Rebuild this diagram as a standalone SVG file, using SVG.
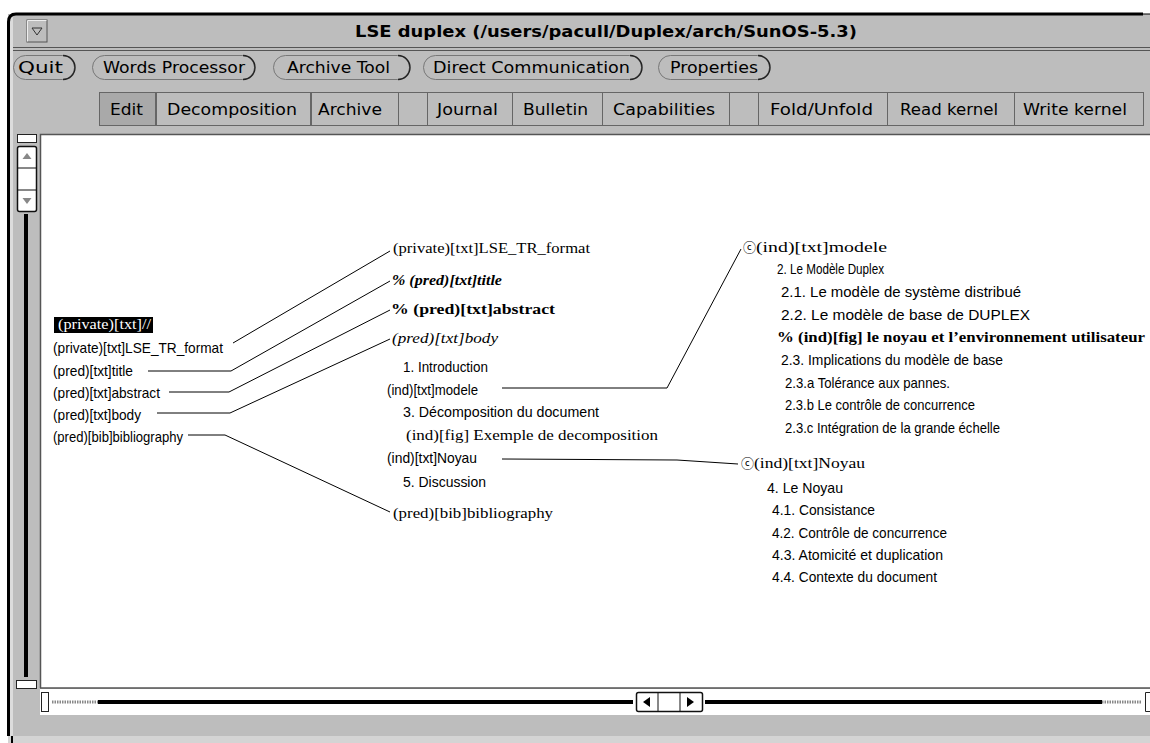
<svg xmlns="http://www.w3.org/2000/svg" width="1150" height="743" viewBox="0 0 1150 743">
<style>
  .ui { font-family: "DejaVu Sans", "Liberation Sans", sans-serif; font-size: 15px; fill: #000; }
  .ttl { font-family: "DejaVu Sans", "Liberation Sans", sans-serif; font-size: 15px; font-weight: bold; fill: #000; }
  .sn { font-family: "Liberation Sans", Arial, sans-serif; font-size: 15px; fill: #000; }
  .sf { font-family: "Liberation Serif", "Times New Roman", serif; font-size: 15px; fill: #000; }
  .cc { font-family: "DejaVu Sans", "Noto Sans CJK JP", sans-serif; font-size: 13px; fill: #000; }
  .bi { font-weight: bold; font-style: italic; }
  .b { font-weight: bold; }
  .i { font-style: italic; }
  .pill { fill: none; stroke: #777; stroke-width: 1; }
  .pillsh { fill: none; stroke: #222; stroke-width: 1.4; }
  .tab { fill: #bdbdbd; stroke: #666; stroke-width: 1; }
  .conn polyline { fill: none; stroke: #000; stroke-width: 1; }
</style>

<!-- page background and window frame -->
<rect x="0" y="0" width="1150" height="743" fill="#fff"/>
<rect x="8" y="14" width="1142" height="729" fill="#bdbdbd"/>
<rect x="9" y="16" width="4" height="720" fill="#dcdcdc"/>
<path d="M8.5 736 V22 Q8.5 14 16 14 H1143" fill="none" stroke="#000" stroke-width="3"/>
<path d="M1143 14 H1150" stroke="#000" stroke-width="1"/>
<rect x="8" y="736" width="1142" height="7" fill="#d4d4d4"/>
<rect x="11" y="736" width="2" height="7" fill="#000"/>

<!-- title bar -->
<rect x="27" y="20" width="20" height="22" fill="#bdbdbd" stroke="#555" stroke-width="1"/>
<path d="M27.5 41.5 V20.5 H46.5" fill="none" stroke="#eee" stroke-width="1"/>
<polygon points="32,28 42,28 37,35" fill="none" stroke="#333" stroke-width="1"/>
<text class="ttl" x="355" y="37" textLength="502" lengthAdjust="spacingAndGlyphs">LSE duplex (/users/pacull/Duplex/arch/SunOS-5.3)</text>
<line x1="13" y1="47.5" x2="1150" y2="47.5" stroke="#555" stroke-width="1"/>
<line x1="13" y1="50.5" x2="1150" y2="50.5" stroke="#555" stroke-width="1"/>

<!-- command buttons -->
<g id="btn-quit">
  <path class="pill" d="M25.5 55.5 H62.5 A12 12 0 0 1 62.5 79.5 H25.5 A12 12 0 0 1 25.5 55.5 Z"/>
  <path class="pillsh" d="M63 55.5 A12 12 0 0 1 63 79.5"/>
  <text class="ui" x="18" y="73" textLength="45" lengthAdjust="spacingAndGlyphs">Quit</text>
</g>
<g id="btn-words">
  <path class="pill" d="M104.5 55.5 H242.5 A12 12 0 0 1 242.5 79.5 H104.5 A12 12 0 0 1 104.5 55.5 Z"/>
  <path class="pillsh" d="M243 55.5 A12 12 0 0 1 243 79.5"/>
  <text class="ui" x="103" y="73" textLength="142" lengthAdjust="spacingAndGlyphs">Words Processor</text>
</g>
<g id="btn-archive">
  <path class="pill" d="M285.5 55.5 H397.5 A12 12 0 0 1 397.5 79.5 H285.5 A12 12 0 0 1 285.5 55.5 Z"/>
  <path class="pillsh" d="M398 55.5 A12 12 0 0 1 398 79.5"/>
  <text class="ui" x="287" y="73" textLength="103" lengthAdjust="spacingAndGlyphs">Archive Tool</text>
</g>
<g id="btn-direct">
  <path class="pill" d="M435.5 55.5 H629.5 A12 12 0 0 1 629.5 79.5 H435.5 A12 12 0 0 1 435.5 55.5 Z"/>
  <path class="pillsh" d="M630 55.5 A12 12 0 0 1 630 79.5"/>
  <text class="ui" x="433" y="73" textLength="197" lengthAdjust="spacingAndGlyphs">Direct Communication</text>
</g>
<g id="btn-props">
  <path class="pill" d="M670.5 55.5 H757.5 A12 12 0 0 1 757.5 79.5 H670.5 A12 12 0 0 1 670.5 55.5 Z"/>
  <path class="pillsh" d="M758 55.5 A12 12 0 0 1 758 79.5"/>
  <text class="ui" x="670" y="73" textLength="88" lengthAdjust="spacingAndGlyphs">Properties</text>
</g>

<!-- tab row -->
<g id="tabs">
  <rect class="tab" x="99.5" y="92.5" width="56" height="33" style="fill:#a9a9a9"/>
  <rect class="tab" x="156.5" y="92.5" width="154" height="33"/>
  <rect class="tab" x="311.5" y="92.5" width="87" height="33"/>
  <rect class="tab" x="398.5" y="92.5" width="29" height="33"/>
  <rect class="tab" x="427.5" y="92.5" width="85" height="33"/>
  <rect class="tab" x="512.5" y="92.5" width="90" height="33"/>
  <rect class="tab" x="602.5" y="92.5" width="127" height="33"/>
  <rect class="tab" x="729.5" y="92.5" width="29" height="33"/>
  <rect class="tab" x="758.5" y="92.5" width="129" height="33"/>
  <rect class="tab" x="887.5" y="92.5" width="127" height="33"/>
  <rect class="tab" x="1014.5" y="92.5" width="129" height="33"/>
  <text class="ui" x="110" y="115" textLength="33" lengthAdjust="spacingAndGlyphs">Edit</text>
  <text class="ui" x="167" y="115" textLength="130" lengthAdjust="spacingAndGlyphs">Decomposition</text>
  <text class="ui" x="318" y="115" textLength="64" lengthAdjust="spacingAndGlyphs">Archive</text>
  <text class="ui" x="437" y="115" textLength="61" lengthAdjust="spacingAndGlyphs">Journal</text>
  <text class="ui" x="523" y="115" textLength="65" lengthAdjust="spacingAndGlyphs">Bulletin</text>
  <text class="ui" x="613" y="115" textLength="102" lengthAdjust="spacingAndGlyphs">Capabilities</text>
  <text class="ui" x="770" y="115" textLength="103" lengthAdjust="spacingAndGlyphs">Fold/Unfold</text>
  <text class="ui" x="900" y="115" textLength="98" lengthAdjust="spacingAndGlyphs">Read kernel</text>
  <text class="ui" x="1023" y="115" textLength="104" lengthAdjust="spacingAndGlyphs">Write kernel</text>
</g>

<!-- drawing canvas -->
<rect x="40" y="134" width="1110" height="554" fill="#fff"/>
<path d="M40.5 688 V134.5 H1150" fill="none" stroke="#555" stroke-width="1.5"/>
<line x1="40" y1="688" x2="1150" y2="688" stroke="#555" stroke-width="1.5"/>

<!-- vertical scrollbar -->
<g id="vscroll">
  <rect x="17.5" y="134.5" width="19" height="8" fill="#fff" stroke="#222" stroke-width="1"/>
  <rect x="17.5" y="146.5" width="19" height="65" rx="2" fill="#fff" stroke="#111" stroke-width="1.5"/>
  <line x1="17.5" y1="168" x2="36.5" y2="168" stroke="#111" stroke-width="1"/>
  <line x1="17.5" y1="190" x2="36.5" y2="190" stroke="#111" stroke-width="1"/>
  <polygon points="27,153 31.5,159 22.5,159" fill="#888"/>
  <polygon points="22.5,198 31.5,198 27,204" fill="#888"/>
  <rect x="24" y="214" width="4" height="463" fill="#000"/>
  <rect x="16.5" y="680.5" width="20" height="8" fill="#fff" stroke="#222" stroke-width="1"/>
</g>

<!-- horizontal scrollbar -->
<g id="hscroll">
  <rect x="40" y="689" width="1110" height="26" fill="#fff"/>
  <rect x="41.5" y="692.5" width="7" height="19" fill="#fff" stroke="#222" stroke-width="1"/>
  <line x1="52" y1="702" x2="98" y2="702" stroke="#888" stroke-width="3" stroke-dasharray="1.5 1"/>
  <rect x="98" y="700" width="535" height="4" fill="#000"/>
  <rect x="636.5" y="692.5" width="66" height="19" rx="2" fill="#fff" stroke="#111" stroke-width="1.5"/>
  <line x1="658" y1="692.5" x2="658" y2="711.5" stroke="#111" stroke-width="1"/>
  <line x1="680" y1="692.5" x2="680" y2="711.5" stroke="#111" stroke-width="1"/>
  <polygon points="643,702 650,697 650,707" fill="#000"/>
  <polygon points="694,702 687,697 687,707" fill="#000"/>
  <rect x="705" y="700" width="397" height="4" fill="#000"/>
  <line x1="1102" y1="702" x2="1142" y2="702" stroke="#888" stroke-width="3" stroke-dasharray="1.5 1"/>
  <path d="M1150 692.5 H1145.5 V711.5 H1150" fill="#fff" stroke="#222" stroke-width="1"/>
</g>

<!-- connectors -->
<g id="connectors" class="conn">
  <polyline points="233,343 390,251"/>
  <polyline points="148,371 231,371 390,281"/>
  <polyline points="169,392 229,392 390,310"/>
  <polyline points="157,413 230,413 390,339"/>
  <polyline points="188,435 225,435 390,512"/>
  <polyline points="502,388 667,388 741,249"/>
  <polyline points="502,459 677,460 738,464"/>
</g>

<!-- root document -->
<g id="node-root">
  <rect x="54" y="317" width="99" height="16" fill="#000"/>
  <text class="sf" x="58" y="329" style="fill:#fff;font-size:14px" textLength="93" lengthAdjust="spacingAndGlyphs">(private)[txt]//</text>
  <text class="sn" x="53" y="353" textLength="170" lengthAdjust="spacingAndGlyphs">(private)[txt]LSE_TR_format</text>
  <text class="sn" x="53" y="376" textLength="80" lengthAdjust="spacingAndGlyphs">(pred)[txt]title</text>
  <text class="sn" x="53" y="398" textLength="107" lengthAdjust="spacingAndGlyphs">(pred)[txt]abstract</text>
  <text class="sn" x="53" y="420" textLength="88" lengthAdjust="spacingAndGlyphs">(pred)[txt]body</text>
  <text class="sn" x="53" y="442" textLength="130" lengthAdjust="spacingAndGlyphs">(pred)[bib]bibliography</text>
</g>

<!-- children of the root -->
<g id="node-format">
  <text class="sf" x="393" y="253" textLength="197" lengthAdjust="spacingAndGlyphs">(private)[txt]LSE_TR_format</text>
</g>
<g id="node-title">
  <text class="sf bi" x="392" y="285" textLength="110" lengthAdjust="spacingAndGlyphs">% (pred)[txt]title</text>
</g>
<g id="node-abstract">
  <text class="sf b" x="391" y="314" textLength="164" lengthAdjust="spacingAndGlyphs">% (pred)[txt]abstract</text>
</g>
<g id="node-body">
  <text class="sf i" x="392" y="343" textLength="106" lengthAdjust="spacingAndGlyphs">(pred)[txt]body</text>
  <text class="sn" x="403" y="372" textLength="85" lengthAdjust="spacingAndGlyphs">1.  Introduction</text>
  <text class="sn" x="387" y="395" textLength="91" lengthAdjust="spacingAndGlyphs">(ind)[txt]modele</text>
  <text class="sn" x="403" y="417" textLength="196" lengthAdjust="spacingAndGlyphs">3.  Décomposition du document</text>
  <text class="sf" x="406" y="440" textLength="252" lengthAdjust="spacingAndGlyphs">(ind)[fig]  Exemple de decomposition</text>
  <text class="sn" x="387" y="463" textLength="90" lengthAdjust="spacingAndGlyphs">(ind)[txt]Noyau</text>
  <text class="sn" x="403" y="487" textLength="83" lengthAdjust="spacingAndGlyphs">5.  Discussion</text>
</g>
<g id="node-bibliography">
  <text class="sf" x="393" y="518" textLength="160" lengthAdjust="spacingAndGlyphs">(pred)[bib]bibliography</text>
</g>

<!-- included section: modele -->
<g id="node-modele">
  <text class="cc" x="743" y="252" textLength="13" lengthAdjust="spacingAndGlyphs">ⓒ</text>
  <text class="sf" x="756" y="252" textLength="131" lengthAdjust="spacingAndGlyphs">(ind)[txt]modele</text>
  <text class="sn" x="777" y="274" textLength="107" lengthAdjust="spacingAndGlyphs">2.  Le Modèle Duplex</text>
  <text class="sn" x="781" y="297" textLength="240" lengthAdjust="spacingAndGlyphs">2.1.  Le modèle de système distribué</text>
  <text class="sn" x="781" y="320" textLength="249" lengthAdjust="spacingAndGlyphs">2.2.  Le modèle de base de DUPLEX</text>
  <text class="sf b" x="777" y="342" textLength="368" lengthAdjust="spacingAndGlyphs">%  (ind)[fig] le noyau et l’environnement utilisateur</text>
  <text class="sn" x="781" y="365" textLength="222" lengthAdjust="spacingAndGlyphs">2.3.  Implications du modèle de base</text>
  <text class="sn" x="785" y="388" textLength="165" lengthAdjust="spacingAndGlyphs">2.3.a  Tolérance aux pannes.</text>
  <text class="sn" x="785" y="410" textLength="190" lengthAdjust="spacingAndGlyphs">2.3.b  Le contrôle de concurrence</text>
  <text class="sn" x="785" y="433" textLength="215" lengthAdjust="spacingAndGlyphs">2.3.c  Intégration de la grande échelle</text>
</g>

<!-- included section: Noyau -->
<g id="node-noyau">
  <text class="cc" x="741" y="468" textLength="13" lengthAdjust="spacingAndGlyphs">ⓒ</text>
  <text class="sf" x="754" y="468" textLength="111" lengthAdjust="spacingAndGlyphs">(ind)[txt]Noyau</text>
  <text class="sn" x="767" y="493" textLength="76" lengthAdjust="spacingAndGlyphs">4.  Le Noyau</text>
  <text class="sn" x="772" y="515" textLength="103" lengthAdjust="spacingAndGlyphs">4.1.  Consistance</text>
  <text class="sn" x="772" y="538" textLength="175" lengthAdjust="spacingAndGlyphs">4.2.  Contrôle de concurrence</text>
  <text class="sn" x="772" y="560" textLength="171" lengthAdjust="spacingAndGlyphs">4.3.  Atomicité et duplication</text>
  <text class="sn" x="772" y="582" textLength="165" lengthAdjust="spacingAndGlyphs">4.4.  Contexte du document</text>
</g>
</svg>
